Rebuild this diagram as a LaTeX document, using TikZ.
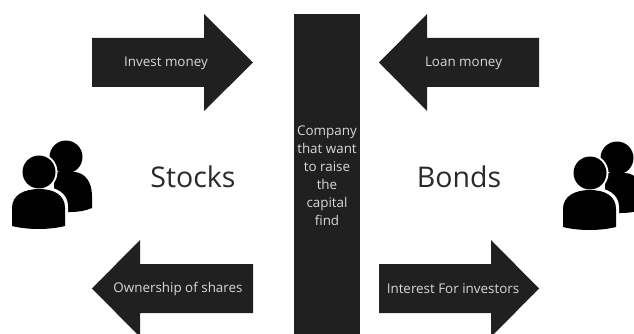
\documentclass[tikz,border=0pt]{standalone}
\usepackage{fontspec}
\setmainfont{Open Sans}
\definecolor{dark}{HTML}{202020}
\definecolor{lab}{HTML}{D8D8D8}
\definecolor{big}{HTML}{2A2A2A}
\tikzset{
  x=1pt,y=-1pt,
  blk/.style={fill=dark,draw=none},
  lbl/.style={text=lab,font=\fontsize{13.4}{15}\selectfont,inner sep=0pt},
  ttl/.style={text=big,font=\fontsize{28.5}{32}\selectfont,inner sep=0pt},
  person/.pic={
    \fill[black] (27,-15) circle[radius=16.5];
    \fill[black] (15,0) -- (36,0) .. controls (46,1) and (53,10) .. (53,24) -- (53,36)
      .. controls (46,39) and (39,40) .. (31,40) -- (15,40) -- cycle;
    \fill[white] (0,0) circle[radius=18.5];
    \fill[white] (-27,48) -- (-27,34) .. controls (-27,22) and (-16,14) .. (0,14)
      .. controls (18,14) and (29,22) .. (29,34) -- (29,62) -- (-27,62) -- cycle;
    \fill[black] (0,0) circle[radius=16.5];
    \fill[black] (-27,54) -- (-27,36) .. controls (-27,23) and (-15,17) .. (0,17)
      .. controls (15,17) and (26,23) .. (26,36) -- (26,54)
      .. controls (10,58) and (-11,58) .. (-27,54) -- cycle;
  }
}
\begin{document}
\begin{tikzpicture}
\useasboundingbox (0,0) rectangle (634,334);
\clip (0,0) rectangle (634,334);
\fill[white] (0,0) rectangle (634,334);
% column
\fill[blk] (294,14) rectangle (360,334);
% arrows
\fill[blk] (92,38) -- (204,38) -- (204,14) -- (253,62.5) -- (204,111) -- (204,87) -- (92,87) -- cycle;
\fill[blk] (539,38) -- (427,38) -- (427,14) -- (379,62.5) -- (427,111) -- (427,87) -- (539,87) -- cycle;
\fill[blk] (253,264) -- (140,264) -- (140,240) -- (92,288.5) -- (140,337) -- (140,313) -- (253,313) -- cycle;
\fill[blk] (379,264) -- (491,264) -- (491,240) -- (539,288.5) -- (491,337) -- (491,313) -- (379,313) -- cycle;
% labels
\node[lbl] (invest) at (166,63) {Invest money};
\node[lbl] (loan) at (463.5,63) {Loan money};
\node[lbl] (shares) at (178,289) {Ownership of shares};
\node[lbl] (interest) at (453,289) {Interest For investors};
\node[lbl,align=center,font=\fontsize{13.4}{18}\selectfont] (company) at (327,175.5) {Company\\that want\\to raise\\the\\capital\\find};
\node[ttl] (stocks) at (193,177) {Stocks};
\node[ttl] (bonds) at (459,177) {Bonds};
% people
\pic at (39,172) {person};
\pic at (590,173) {person};
\end{tikzpicture}
\end{document}
